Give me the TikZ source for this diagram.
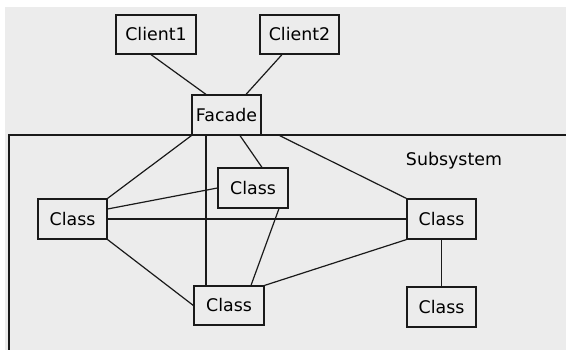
\documentclass[tikz,border=0pt]{standalone}
\usepackage{fontspec}
\setmainfont{DejaVu Sans}
\usepackage{tikz}
\definecolor{FcBack}{HTML}{ECECEC}
\definecolor{FcLine}{HTML}{1A1A1A}

\begin{document}
\begin{tikzpicture}[
  x=1pt,y=-1pt,
  cls/.style={draw=FcLine,line width=1.2pt,fill=FcBack,minimum height=40pt,minimum width=69pt,inner sep=0pt,font=\fontsize{17.4}{20}\selectfont},
  link/.style={draw=FcLine,line width=1.2pt}
]
\useasboundingbox (0,0) rectangle (566,350);
\fill[FcBack] (5,7) rectangle (566,350);
% subsystem frame
\draw[link] (566,135) -- (9,135) -- (9,350);
\node[font=\fontsize{17.4}{20}\selectfont] (sub) at (454,161) {Subsystem};
\node[cls,minimum width=80pt,minimum height=39pt] (c1) at (156,34.5) {Client1};
\node[cls,minimum width=79pt,minimum height=39pt] (c2) at (299.5,34.5) {Client2};
\node[cls] (fac) at (226.5,115) {Facade};
\node[cls] (cl) at (72.5,219) {Class};
\node[cls,minimum width=70pt] (ctop) at (253,188) {Class};
\node[cls] (cr) at (441.5,219) {Class};
\node[cls,minimum width=70pt,minimum height=39pt] (cbot) at (229,305.5) {Class};
\node[cls] (cbr) at (441.5,307) {Class};
\draw[link] ([xshift=-5pt]c1.south) -- ([xshift=-20.5pt]fac.north);
\draw[link] ([xshift=-17.5pt]c2.south) -- ([xshift=19.5pt]fac.north);
\draw[link] (fac.south west) -- (cl.north east);
\draw[link] ([xshift=-20.5pt]fac.south) -- ([xshift=-20.5pt]fac.south |- cbot.north);
\draw[link] ([xshift=13.5pt]fac.south) -- ([xshift=9pt]ctop.north);
\draw[link] ([xshift=18pt]fac.south east) -- (cr.north west);
\draw[link] ([yshift=10pt]cl.east) -- (ctop.west);
\draw[link] (cl.east) -- (cr.west);
\draw[link] (cl.south east) -- (cbot.west);
\draw[link] ([xshift=26pt]ctop.south) -- ([xshift=22pt]cbot.north);
\draw[link] (cr.south west) -- (cbot.north east);
\draw[link] (cr.south) -- (cbr.north);
\end{tikzpicture}
\end{document}
